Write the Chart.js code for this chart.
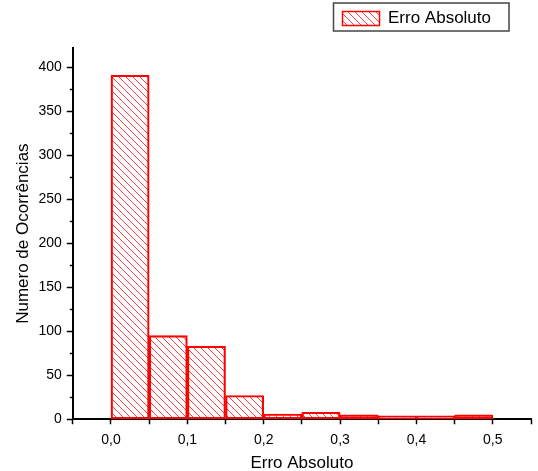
<!DOCTYPE html>
<html>
<head>
<meta charset="utf-8">
<script src="https://cdn.jsdelivr.net/npm/chart.js@4.4.1/dist/chart.umd.min.js"></script>
<style>
  body { margin: 0; background: #fff; }
  #wrap { width: 538px; height: 471px; }
</style>
</head>
<body>
<div id="wrap"><canvas id="histChart" width="538" height="471"></canvas></div>
<script>
// bin centres (Erro Absoluto), bin width 0.05
const binCenters = [0.025, 0.075, 0.125, 0.175, 0.225, 0.275, 0.325, 0.375, 0.425, 0.475];
const counts = [391, 95, 83, 27, 6, 8, 5, 4, 4, 5];
const seriesLabel = "Erro Absoluto";
const xTitle = "Erro Absoluto";
const yTitle = "Numero de Ocorrências";

const FONT = "'Liberation Sans', Arial, sans-serif";

function hatchPattern() {
  const c = document.createElement("canvas");
  c.width = 7;
  c.height = 7;
  const g = c.getContext("2d");
  g.strokeStyle = "rgba(255,0,0,0.75)";
  g.lineWidth = 1;
  for (const x0 of [-7, 0, 7]) {
    g.beginPath();
    g.moveTo(x0, 0);
    g.lineTo(x0 + 7, 7);
    g.stroke();
  }
  return g.createPattern(c, "repeat");
}

// minor ticks on y axis + box round the legend + legend placement
const originLook = {
  id: "originLook",
  afterLayout(chart) {
    const lg = chart.legend;
    const dx = 501 - lg.right;
    lg.left += dx;
    lg.right += dx;
    const dy = 0 - lg.top;
    lg.top += dy;
    lg.bottom += dy;
  },
  afterDraw(chart) {
    const ctx = chart.ctx;
    const y = chart.scales.y;
    ctx.save();
    ctx.strokeStyle = "#000";
    ctx.lineWidth = 1.5;
    for (let v = 25; v < y.max; v += 50) {
      const py = Math.round(y.getPixelForValue(v)) + 0.5;
      ctx.beginPath();
      ctx.moveTo(y.right, py);
      ctx.lineTo(y.right - 3, py);
      ctx.stroke();
    }
    const hb = chart.legend.legendHitBoxes[0];
    if (hb) {
      ctx.strokeStyle = "#444";
      ctx.lineWidth = 1.5;
      ctx.strokeRect(hb.left - 9, 3, hb.width + 27, 28);
    }
    ctx.restore();
  }
};

new Chart(document.getElementById("histChart"), {
  type: "bar",
  data: {
    datasets: [
      {
        label: seriesLabel,
        data: binCenters.map((x, i) => ({ x: x, y: counts[i] })),
        backgroundColor: hatchPattern(),
        borderColor: "#ff0000",
        borderWidth: 1.5,
        borderSkipped: false,
        barPercentage: 1,
        categoryPercentage: 1,
      },
    ],
  },
  options: {
    responsive: false,
    animation: false,
    layout: {
      padding: { top: 11, right: 7, bottom: 0, left: 14 },
    },
    plugins: {
      tooltip: { enabled: false },
      legend: {
        position: "top",
        align: "end",
        labels: {
          boxWidth: 37,
          boxHeight: 14,
          padding: 10,
          color: "#000",
          font: { family: FONT, size: 17 },
        },
      },
    },
    scales: {
      x: {
        type: "linear",
        min: -0.05,
        max: 0.55,
        offset: false,
        grid: {
          offset: false,
          drawOnChartArea: false,
          tickLength: 5,
          tickColor: "#000",
          tickWidth: 1.5,
        },
        border: { color: "#000", width: 2 },
        ticks: {
          stepSize: 0.05,
          autoSkip: false,
          maxRotation: 0,
          padding: 7,
          color: "#000",
          font: { family: FONT, size: 14 },
          callback: (v) => {
            const t = v * 10;
            if (Math.abs(t - Math.round(t)) > 1e-6 || v < -1e-9) return "";
            return v.toFixed(1).replace(".", ",");
          },
        },
        title: {
          display: true,
          text: xTitle,
          color: "#000",
          font: { family: FONT, size: 17, lineHeight: 0.85 },
          padding: { top: 1.5, bottom: 0 },
        },
      },
      y: {
        min: 0,
        max: 422,
        grid: {
          drawOnChartArea: false,
          tickLength: 6,
          tickColor: "#000",
          tickWidth: 1.5,
        },
        border: { color: "#000", width: 2 },
        ticks: {
          stepSize: 50,
          includeBounds: false,
          padding: 5,
          color: "#000",
          font: { family: FONT, size: 14 },
        },
        title: {
          display: true,
          text: yTitle,
          color: "#000",
          font: { family: FONT, size: 17, lineHeight: 0.85 },
          padding: { top: 2, bottom: 3 },
        },
      },
    },
  },
  plugins: [originLook],
});
</script>
</body>
</html>
